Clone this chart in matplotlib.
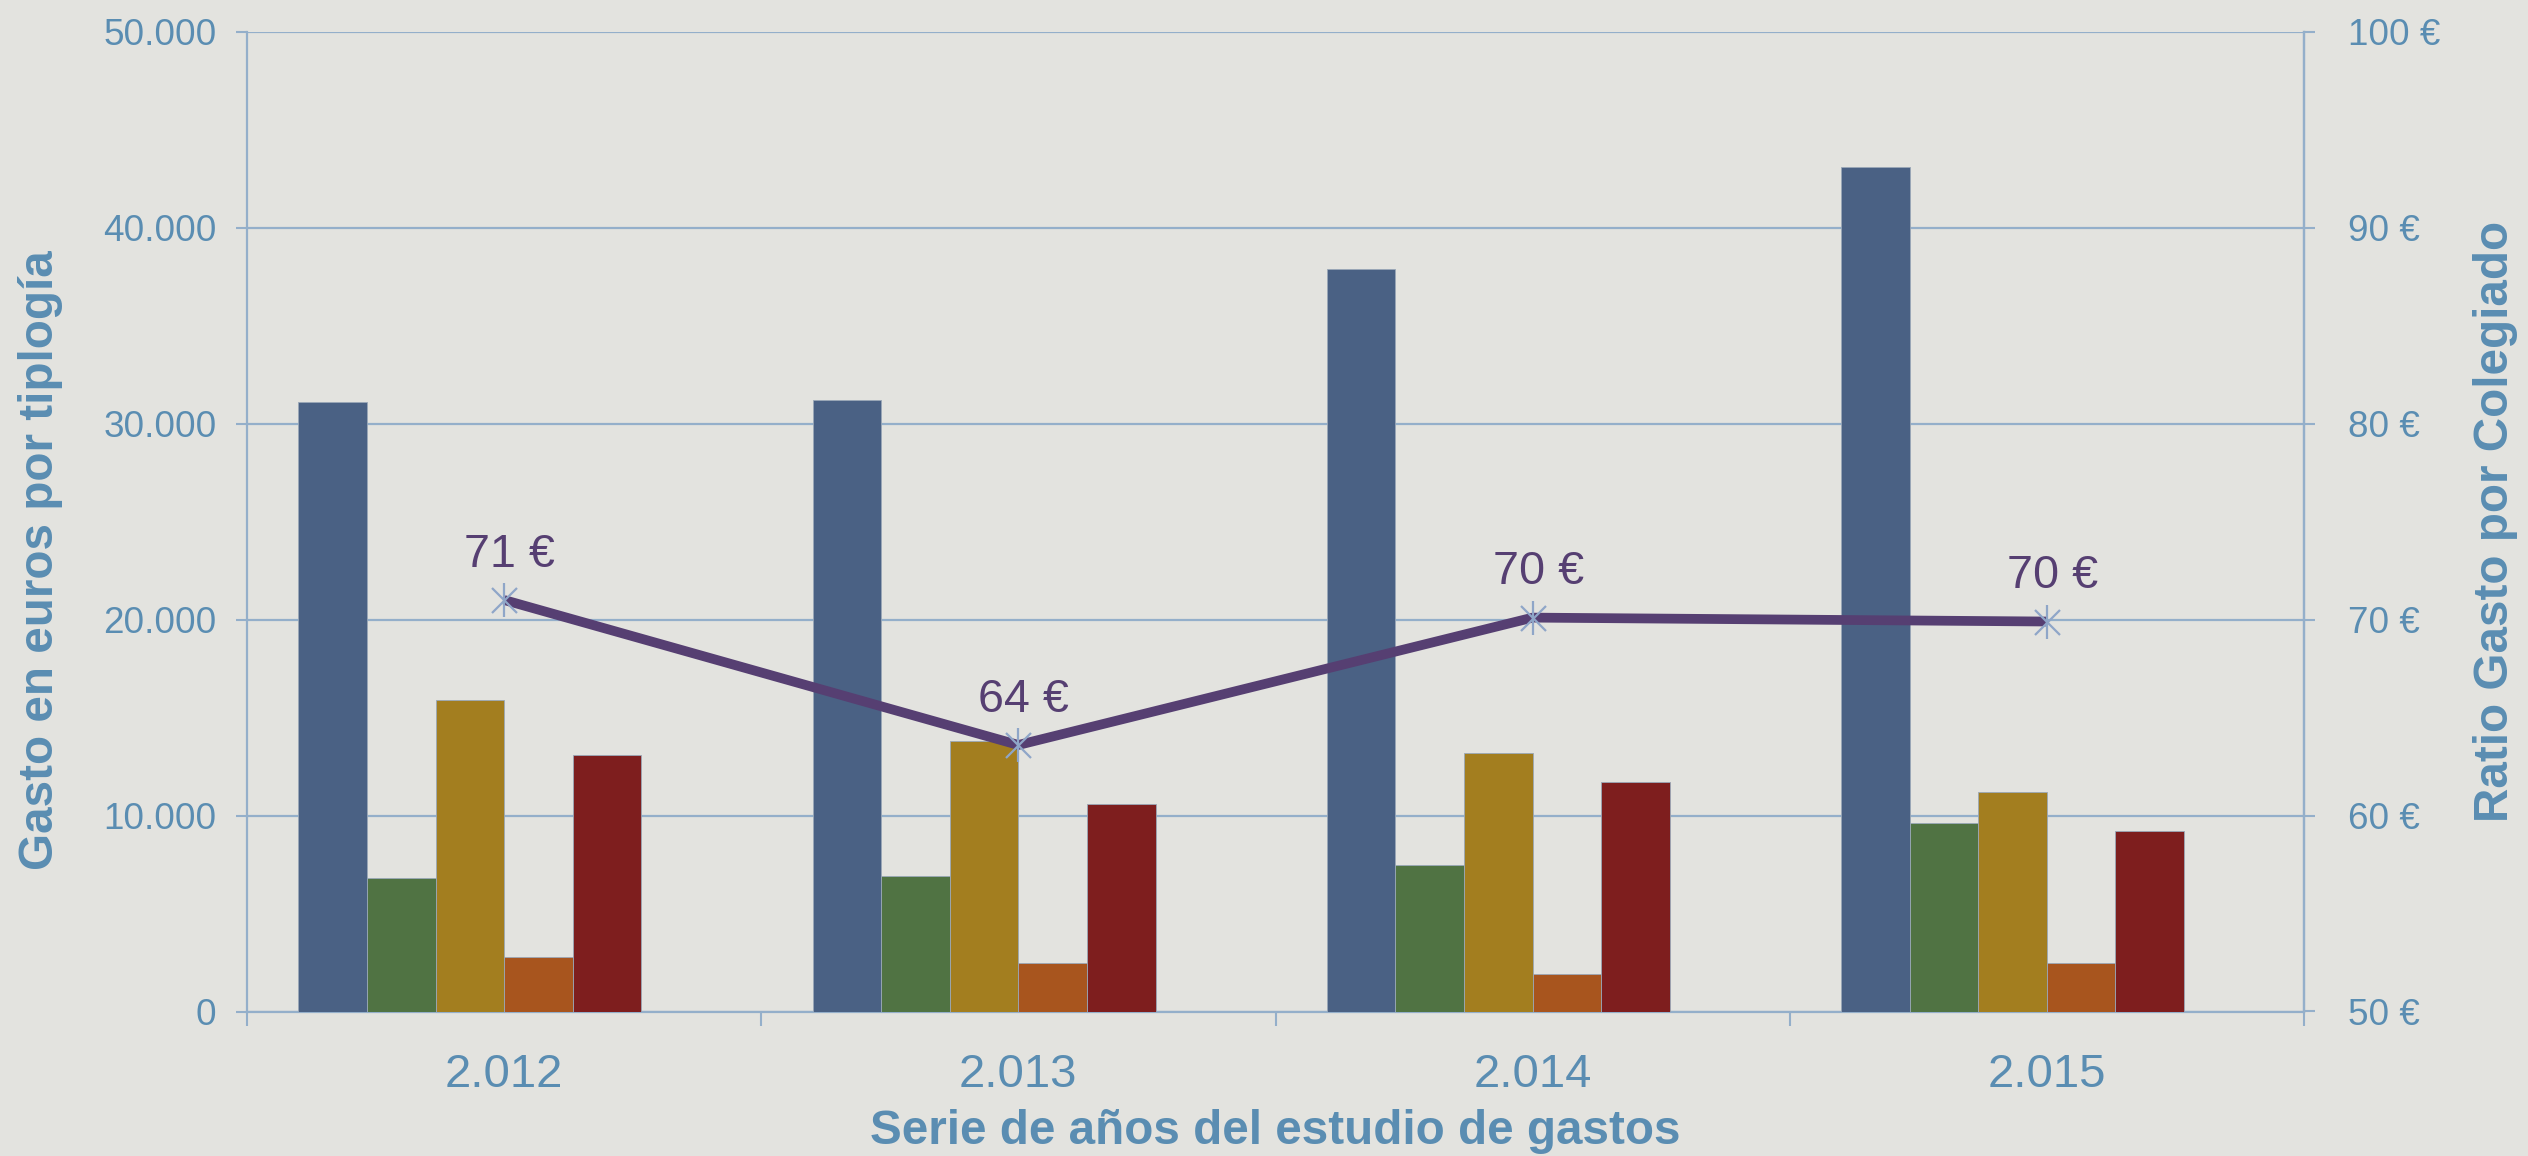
import numpy as np
import matplotlib
matplotlib.use('Agg')
import matplotlib.pyplot as plt

plt.rcParams['font.family'] = ['Liberation Sans', 'DejaVu Sans']

# datos
anios = ['2.012', '2.013', '2.014', '2.015']
serie_1 = [31100, 31200, 37900, 43100]
serie_2 = [6800, 6900, 7500, 9600]
serie_3 = [15900, 13800, 13200, 11200]
serie_4 = [2800, 2500, 1900, 2500]
serie_5 = [13100, 10600, 11700, 9200]
ratio = [71.0, 63.6, 70.1, 69.9]

colores = ['#4a6184', '#507343', '#a37e1f', '#a8551e', '#7e1e1e']
c_texto = '#5a8db2'
c_grid = '#94afca'
c_linea = '#563f72'
fondo = '#e3e3df'

fig = plt.figure(figsize=(25.28, 11.56), dpi=100, facecolor=fondo)
ax = fig.add_axes([0.0977, 0.125, 0.8137, 0.8476])
ax.set_facecolor(fondo)
ax.patch.set_alpha(0)

x = np.arange(len(anios))
w = 0.8 / 6
series = [serie_1, serie_2, serie_3, serie_4, serie_5]
for i, s in enumerate(series):
    ax.bar(x - 0.4 + w * (i + 0.5), s, width=w, color=colores[i],
           edgecolor='#9aa8b8', linewidth=0.6, zorder=3)

ax.set_xlim(-0.5, 3.5)
ax.set_ylim(0, 50000)
ax.set_yticks(range(0, 50001, 10000))
ax.set_yticklabels([f'{v:,}'.replace(',', '.') for v in range(0, 50001, 10000)])
ax.set_axisbelow(True)
ax.yaxis.grid(True, color=c_grid, linewidth=1.6)

# ticks en los limites de cada grupo, etiquetas centradas
ax.set_xticks([-0.5, 0.5, 1.5, 2.5, 3.5])
ax.set_xticklabels([])
ax.set_xticks(x, minor=True)
ax.set_xticklabels(anios, minor=True)
ax.tick_params(axis='x', which='major', length=10, width=1.5, color=c_grid, direction='out')
ax.tick_params(axis='x', which='minor', length=0, pad=30, labelsize=34, labelcolor=c_texto)
ax.tick_params(axis='y', length=8, width=1.5, color=c_grid, direction='out',
               pad=14, labelsize=26.6, labelcolor=c_texto)

for sp in ['left', 'bottom', 'right']:
    ax.spines[sp].set_color(c_grid)
    ax.spines[sp].set_linewidth(1.6)
ax.spines['top'].set_visible(False)

ax2 = ax.twinx()
ax2.set_ylim(50, 100)
ax2.set_yticks(range(50, 101, 10))
ax2.set_yticklabels([f'{v} €' for v in range(50, 101, 10)])
ax2.tick_params(axis='y', length=8, width=1.5, color=c_grid, direction='out',
                pad=24, labelsize=26.6, labelcolor=c_texto)
for sp in ['left', 'bottom', 'top']:
    ax2.spines[sp].set_visible(False)
ax2.spines['right'].set_color(c_grid)
ax2.spines['right'].set_linewidth(1.6)

ax2.plot(x, ratio, color=c_linea, linewidth=7, solid_capstyle='butt', zorder=4)
ax2.plot(x, ratio, linestyle='none', marker='x', markersize=18, markeredgewidth=1.6,
         color='#8fa6c8', zorder=5)
ax2.plot(x, ratio, linestyle='none', marker='|', markersize=24, markeredgewidth=1.6,
         color='#8fa6c8', zorder=5)
for xi, v in zip(x, ratio):
    ax2.annotate(f'{v:.0f} €', (xi, v), xytext=(4, 24), textcoords='offset points',
                 ha='center', va='baseline', fontsize=33.7, color=c_linea)

fig.text(41 / 2528, 1 - 560 / 1156, 'Gasto en euros por tiplogía', rotation=90,
         ha='center', va='center', fontsize=34.3, fontweight='bold', color=c_texto)
fig.text(2495 / 2528, 1 - 521 / 1156, 'Ratio Gasto por Colegiado', rotation=90,
         ha='center', va='center', fontsize=34.3, fontweight='bold', color=c_texto)
fig.text(1275 / 2528, 1 - 1131 / 1156, 'Serie de años del estudio de gastos',
         ha='center', va='center', fontsize=34.3, fontweight='bold', color=c_texto)

fig.savefig('out.png', dpi=100, facecolor=fondo)
